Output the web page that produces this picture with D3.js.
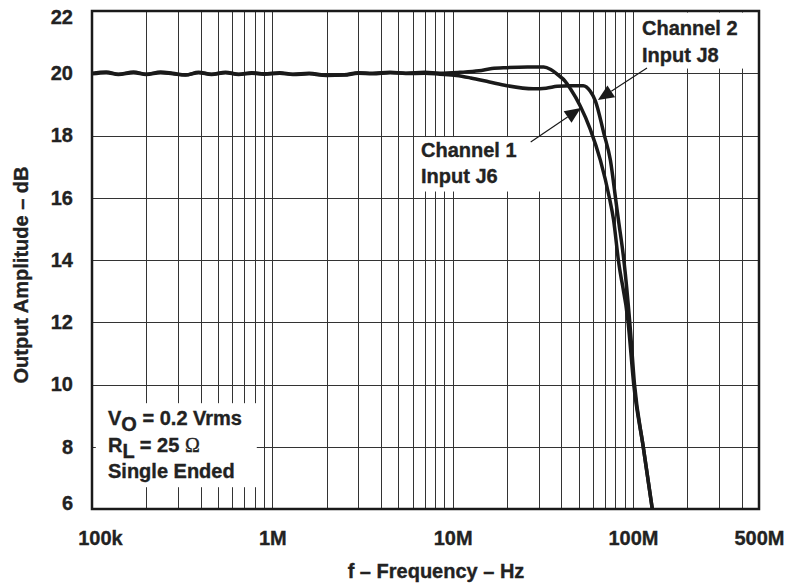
<!DOCTYPE html>
<html>
<head>
<meta charset="utf-8">
<script src="https://cdnjs.cloudflare.com/ajax/libs/d3/7.8.5/d3.min.js"></script>
<style>
  body { margin: 0; background: #fff; }
  text { font-family: "Liberation Sans", Arial, sans-serif; font-weight: bold; fill: #222; stroke: #222; stroke-width: 0.35px; }
</style>
</head>
<body>
<div id="chart"></div>
<script>
// frequency (Hz) and output amplitude (dB)
var ch1Freq = [1e5, 1.2e5, 1.4e5, 1.7e5, 2e5, 2.4e5, 2.8e5, 3.3e5, 3.9e5, 4.6e5, 5.5e5, 6.5e5, 7.7e5, 9e5,
  1.1e6, 1.3e6, 1.6e6, 2e6, 2.5e6, 3e6, 3.6e6, 4.5e6, 5.5e6, 7e6, 8.5e6,
  1.1e7, 1.4e7, 1.65e7, 2e7, 2.6e7, 3.2e7, 3.5e7, 3.85e7, 4.2e7, 4.5e7, 5.1e7, 5.8e7, 6.6e7, 7.4e7, 7.8e7,
  8.3e7, 9.4e7, 1.01e8, 1.14e8, 1.28e8];
var ch1Db = [20.0, 20.04, 19.97, 20.04, 19.97, 20.04, 20.0, 19.95, 20.03, 19.97, 20.03, 19.97, 20.02, 19.98,
  20.02, 19.97, 20.0, 19.94, 19.95, 20.02, 20.0, 20.03, 20.0, 20.03, 20.0,
  20.03, 20.08, 20.15, 20.18, 20.2, 20.2, 20.12, 19.94, 19.75, 19.5, 18.95, 18.2, 17.2, 16.0, 15.3,
  14.0, 12.0, 10.0, 8.0, 6.0];

var ch2Freq = [1e5, 1.2e5, 1.4e5, 1.7e5, 2e5, 2.4e5, 2.8e5, 3.3e5, 3.9e5, 4.6e5, 5.5e5, 6.5e5, 7.7e5, 9e5,
  1.1e6, 1.3e6, 1.6e6, 2e6, 2.5e6, 3e6, 3.6e6, 4.5e6, 5.5e6, 7e6, 8.5e6,
  1.05e7, 1.26e7, 1.6e7, 2e7, 2.8e7, 3.3e7, 3.8e7, 4.5e7, 5.3e7, 5.8e7, 6.2e7, 6.9e7, 7.5e7, 8e7, 8.3e7,
  8.9e7, 9.6e7, 1.02e8, 1.14e8, 1.28e8];
var ch2Db = [19.98, 20.02, 19.96, 20.02, 19.96, 20.02, 19.98, 19.94, 20.02, 19.96, 20.02, 19.96, 20.0, 19.97,
  20.0, 19.96, 19.98, 19.93, 19.94, 20.0, 19.98, 20.02, 19.99, 20.0, 19.97,
  19.93, 19.85, 19.72, 19.6, 19.5, 19.52, 19.58, 19.6, 19.6, 19.42, 19.1, 18.06, 17.2, 16.0, 15.3,
  14.0, 12.0, 10.0, 8.0, 6.0];

var xTicks = [1e5, 1e6, 1e7, 1e8, 5e8];
var xTickLabels = ["100k", "1M", "10M", "100M", "500M"];
var yTicks = [6, 8, 10, 12, 14, 16, 18, 20, 22];

var width = 791, height = 584;
var margin = {top: 11, right: 32, bottom: 75, left: 92};

var svg = d3.select("#chart")
  .append("svg")
    .attr("width", width)
    .attr("height", height);

var x = d3.scaleLog()
  .domain([1e5, 5e8])
  .range([margin.left, width - margin.right]);
var y = d3.scaleLinear()
  .domain([6, 22])
  .range([height - margin.bottom, margin.top]);

// grid
var grid = svg.append("g").attr("stroke", "#333").attr("stroke-width", 1);
grid.selectAll(".vx")
  .data(x.ticks())
  .enter()
  .append("line")
    .attr("x1", function (d) { return Math.round(x(d)) + 0.5; })
    .attr("x2", function (d) { return Math.round(x(d)) + 0.5; })
    .attr("y1", y(6))
    .attr("y2", y(22));
grid.selectAll(".hy")
  .data(yTicks)
  .enter()
  .append("line")
    .attr("x1", x(1e5))
    .attr("x2", x(5e8))
    .attr("y1", function (d) { return Math.round(y(d)) + 0.5; })
    .attr("y2", function (d) { return Math.round(y(d)) + 0.5; });

// white boxes behind the notes
var boxes = [
  {f0: 6.3e6, f1: 3.3e7, d0: 16.2, d1: 17.95},
  {f0: 1.07e8, f1: 5e8, d0: 20.15, d1: 21.95},
  {f0: 1.05e5, f1: 8.2e5, d0: 6.7, d1: 9.4}
];
svg.selectAll(".box")
  .data(boxes)
  .enter()
  .append("rect")
    .attr("x", function (d) { return x(d.f0); })
    .attr("y", function (d) { return y(d.d1); })
    .attr("width", function (d) { return x(d.f1) - x(d.f0); })
    .attr("height", function (d) { return y(d.d0) - y(d.d1); })
    .attr("fill", "#fff");

// curves
var line = d3.line()
  .x(function (d) { return x(d[0]); })
  .y(function (d) { return y(d[1]); })
  .curve(d3.curveMonotoneX);

[[ch1Freq, ch1Db], [ch2Freq, ch2Db]].forEach(function (s) {
  svg.append("path")
    .datum(d3.zip(s[0], s[1]))
    .attr("fill", "none")
    .attr("stroke", "#1a1a1a")
    .attr("stroke-width", 3.5)
    .attr("stroke-linejoin", "round")
    .attr("d", line);
});

// frame
svg.append("rect")
  .attr("x", x(1e5))
  .attr("y", y(22))
  .attr("width", x(5e8) - x(1e5))
  .attr("height", y(6) - y(22))
  .attr("fill", "none")
  .attr("stroke", "#1a1a1a")
  .attr("stroke-width", 2.5);

// axes
var xAxis = svg.append("g")
  .attr("transform", "translate(0," + y(6) + ")")
  .call(d3.axisBottom(x).tickValues(xTicks)
    .tickFormat(function (d, i) { return xTickLabels[i]; })
    .tickSize(0).tickPadding(22));
var yAxis = svg.append("g")
  .attr("transform", "translate(" + x(1e5) + ",0)")
  .call(d3.axisLeft(y).tickValues(yTicks).tickSize(0).tickPadding(19));
[xAxis, yAxis].forEach(function (a) {
  a.select(".domain").remove();
  a.selectAll("text")
    .style("font-size", "20px")
    .style("font-family", "'Liberation Sans', Arial, sans-serif")
    .style("font-weight", "bold")
    .attr("fill", "#222");
});
// end labels sit a little inside the frame
xAxis.selectAll(".tick text").filter(function (d) { return d === 1e5; }).attr("dx", 8);
yAxis.selectAll(".tick text").filter(function (d) { return d === 22; }).attr("dy", "0.62em");
yAxis.selectAll(".tick text").filter(function (d) { return d === 6; }).attr("dy", "0.02em");

svg.append("text")
  .attr("x", 436)
  .attr("y", 578)
  .attr("text-anchor", "middle")
  .style("font-size", "20px")
  .text("f \u2013 Frequency \u2013 Hz");

svg.append("text")
  .attr("transform", "translate(28,275) rotate(-90)")
  .attr("text-anchor", "middle")
  .style("font-size", "20px")
  .text("Output Amplitude \u2013 dB");

// notes
var notes = svg.append("g").style("font-size", "20px");
notes.append("text").attr("x", 421).attr("y", 157).text("Channel 1");
notes.append("text").attr("x", 421).attr("y", 183).text("Input J6");
notes.append("text").attr("x", 642).attr("y", 35).text("Channel 2");
notes.append("text").attr("x", 642).attr("y", 62).text("Input J8");

var vo = notes.append("text").attr("x", 108).attr("y", 425);
vo.append("tspan").text("V");
vo.append("tspan").attr("dy", 6).text("O");
vo.append("tspan").attr("dy", -6).text(" = 0.2 Vrms");
var rl = notes.append("text").attr("x", 108).attr("y", 452);
rl.append("tspan").text("R");
rl.append("tspan").attr("dy", 6).text("L");
rl.append("tspan").attr("dy", -6).text(" = 25 ");
rl.append("tspan")
  .style("font-family", "'Liberation Serif', 'Times New Roman', serif")
  .style("font-weight", "normal")
  .text("\u03A9");
notes.append("text").attr("x", 108).attr("y", 478).text("Single Ended");

// leader lines with arrowheads
var arrows = [
  {f0: 2.71e7, d0: 17.79, f1: 5.14e7, d1: 18.88},
  {f0: 1.196e8, d0: 20.17, f1: 6.39e7, d1: 19.14}
];
arrows.forEach(function (a) {
  var x0 = x(a.f0), y0 = y(a.d0), x1 = x(a.f1), y1 = y(a.d1);
  var len = Math.hypot(x1 - x0, y1 - y0);
  var ux = (x1 - x0) / len, uy = (y1 - y0) / len;
  var hl = 16, hw = 7;
  var bx = x1 - ux * hl, by = y1 - uy * hl;
  svg.append("line")
    .attr("x1", x0).attr("y1", y0)
    .attr("x2", bx).attr("y2", by)
    .attr("stroke", "#1a1a1a")
    .attr("stroke-width", 1.2);
  svg.append("path")
    .attr("d", "M" + x1 + "," + y1 +
      "L" + (bx - uy * hw) + "," + (by + ux * hw) +
      "L" + (bx + uy * hw) + "," + (by - ux * hw) + "Z")
    .attr("fill", "#1a1a1a");
});
</script>
</body>
</html>
